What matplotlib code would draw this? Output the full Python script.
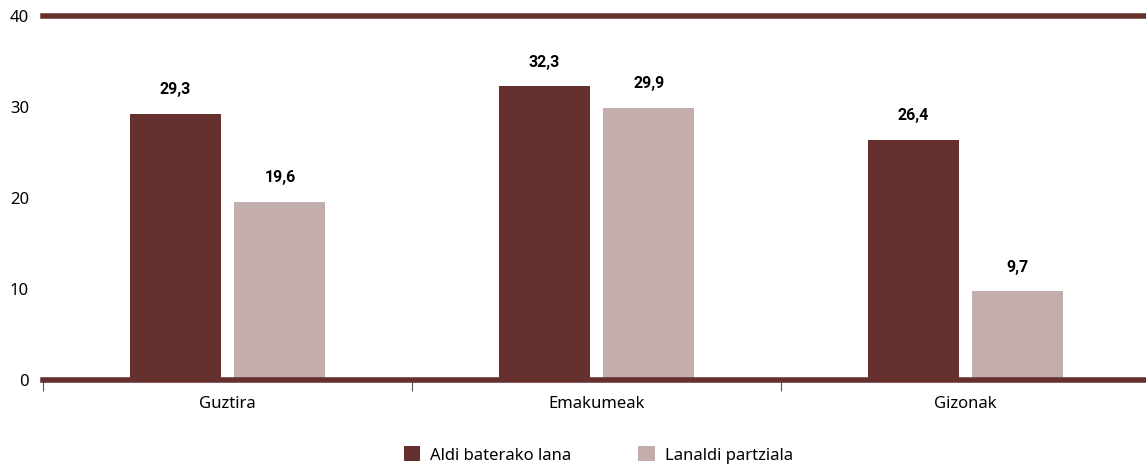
import matplotlib.pyplot as plt
import numpy as np

categories = ["Guztira", "Emakumeak", "Gizonak"]
aldi_baterako = [29.3, 32.3, 26.4]
lanaldi_partziala = [19.6, 29.9, 9.7]
series_names = ["Aldi baterako lana", "Lanaldi partziala"]

dark = "#66302f"
light = "#c4aead"

plt.rcParams['font.family'] = ['Noto Sans', 'DejaVu Sans']

fig = plt.figure(figsize=(11.46, 4.66), dpi=100)
ax = fig.add_axes([43 / 1146, 1 - 379.5 / 466, 1107 / 1146, 363 / 466])

x = np.arange(len(categories))
w = 0.247
off = 0.142
b1 = ax.bar(x - off, aldi_baterako, w, color=dark, label=series_names[0], zorder=2)
b2 = ax.bar(x + off, lanaldi_partziala, w, color=light, label=series_names[1], zorder=2)

for bars, vals in ((b1, aldi_baterako), (b2, lanaldi_partziala)):
    for rect, v in zip(bars, vals):
        ax.annotate(f"{v:.1f}".replace(".", ","),
                    (rect.get_x() + rect.get_width() / 2, v),
                    xytext=(0, 12), textcoords="offset points",
                    ha="center", va="bottom", fontsize=11.5, fontweight="bold",
                    family=["Roboto", "DejaVu Sans"])

ax.set_xlim(-0.5, 2.5)
ax.set_ylim(0, 40)
ax.axhline(0, color=dark, lw=4, zorder=3, clip_on=False)
ax.axhline(40, color=dark, lw=4, zorder=3, clip_on=False)

ax.set_yticks([0, 10, 20, 30, 40])
ax.tick_params(axis="y", length=0, pad=10, labelsize=12)
ax.set_xticks(x)
ax.set_xticklabels(categories)
ax.tick_params(axis="x", length=0, pad=12, labelsize=12)
ax.set_xticks([-0.5, 0.5, 1.5], minor=True)
ax.tick_params(axis="x", which="minor", length=8, width=0.8, color="#555555")

for s in ax.spines.values():
    s.set_visible(False)

fig.legend(handles=[b1, b2], loc="center", bbox_to_anchor=(0.522, 1 - 455 / 466),
           ncol=2, frameon=False, fontsize=12, handlelength=1.0, handleheight=1.0,
           columnspacing=4.0, handletextpad=0.6)

fig.savefig("out.png", dpi=100)
